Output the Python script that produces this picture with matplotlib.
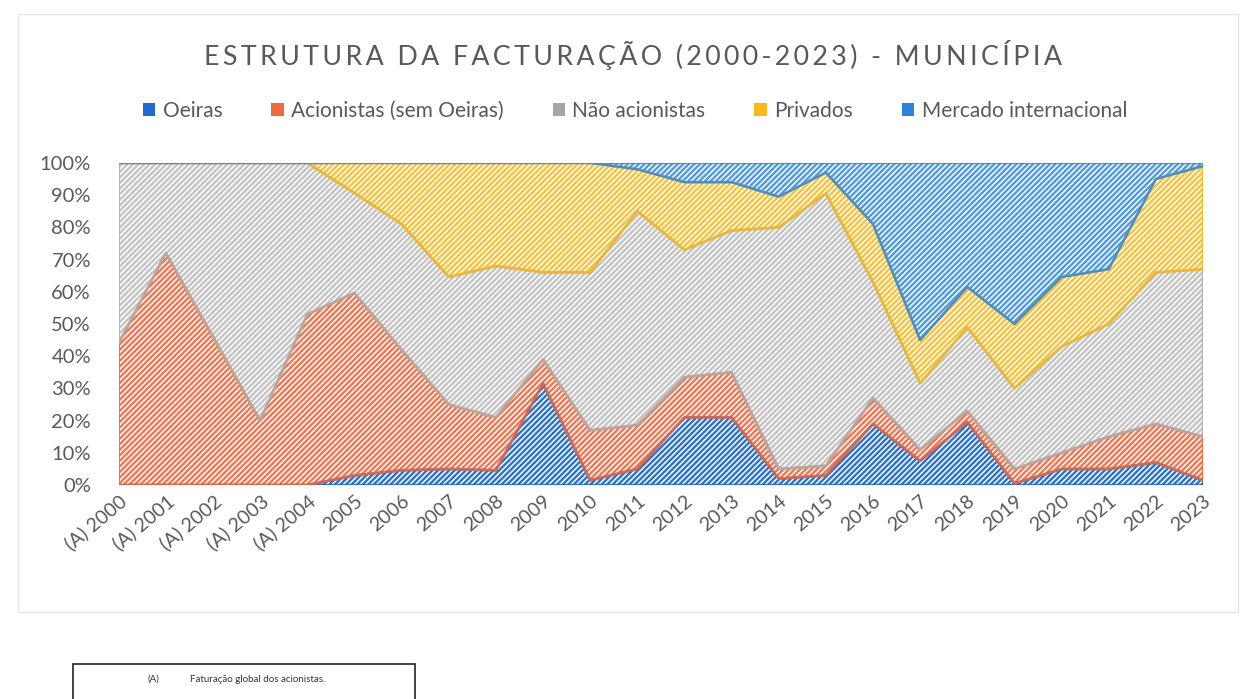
import numpy as np
import matplotlib
matplotlib.use("Agg")
import matplotlib.pyplot as plt
from matplotlib.patches import Patch, Rectangle

plt.rcParams['font.family'] = ['Lato', 'DejaVu Sans']
plt.rcParams['hatch.linewidth'] = 1.1

years = ["(A) 2000", "(A) 2001", "(A) 2002", "(A) 2003", "(A) 2004", "2005", "2006",
         "2007", "2008", "2009", "2010", "2011", "2012", "2013", "2014", "2015",
         "2016", "2017", "2018", "2019", "2020", "2021", "2022", "2023"]

oeiras = [0, 0, 0, 0, 0, 3, 4.6, 5, 4.6, 31.5, 1.5, 5, 21, 21, 2, 3, 19, 7.5, 19.5, 0.5, 5, 5, 7, 1.5]
acionistas = [44, 72, 46, 20, 53, 56.6, 37.4, 20, 16.4, 7.5, 15.5, 13.6, 12.5, 14, 3, 3, 8, 3.5, 3.5, 4.5, 5, 10, 12, 13.5]
nao_acionistas = [56, 28, 54, 80, 47, 31, 39, 39.6, 47, 27, 49, 66.4, 39.5, 44, 75, 84.5, 36, 20.6, 26, 25, 33, 35, 47, 52]
privados = [0, 0, 0, 0, 0, 9.4, 19, 35.4, 32, 34, 34, 13, 21, 15, 9.5, 6.5, 18, 13.4, 12.5, 20, 21.6, 17, 29, 32]
mercado = [0, 0, 0, 0, 0, 0, 0, 0, 0, 0, 0, 2, 6, 6, 10.5, 3, 19, 55, 38.5, 50, 35.4, 33, 5, 1]

series_names = ["Oeiras", "Acionistas (sem Oeiras)", "Não acionistas", "Privados", "Mercado internacional"]
series_colors = ["#2A72D4", "#F47650", "#C4C4C4", "#F9C23A", "#4D9BE6"]
edge_colors = ["#1F66CC", "#F0683A", "#B0B0B0", "#F6B91C", "#2E86DE"]
legend_colors = ["#1F6BD1", "#F26A3C", "#A6A6A6", "#FBB81A", "#2A84DA"]

title = "ESTRUTURA DA FACTURAÇÃO (2000-2023) - MUNICÍPIA"
footnote_key = "(A)"
footnote_text = "Faturação global dos acionistas."

text_color = "#595959"

fig = plt.figure(figsize=(12.5, 6.99), dpi=100)
ax = fig.add_axes([0.095, 0.306, 0.8674, 0.461])

data = np.array([oeiras, acionistas, nao_acionistas, privados, mercado], dtype=float)
total = data.sum(axis=0)
pct = data / total * 100
cum = np.vstack([np.zeros(len(years)), np.cumsum(pct, axis=0)])
x = np.arange(len(years))

for i in range(len(series_names)):
    ax.fill_between(x, cum[i], cum[i + 1], facecolor=series_colors[i],
                    edgecolor="white", hatch="//////", linewidth=0, zorder=2)
for i in range(len(series_names)):
    ax.fill_between(x, cum[i], cum[i + 1], facecolor="none",
                    edgecolor=edge_colors[i], linewidth=1.8, alpha=0.85, zorder=3)

ax.set_xlim(0, len(years) - 1)
ax.set_ylim(0, 100)
ax.set_yticks(np.arange(0, 101, 10))
ax.set_yticklabels([f"{v}%" for v in range(0, 101, 10)])
ax.set_xticks(x)
ax.set_xticklabels(years, rotation=40, ha="right", va="top", rotation_mode="anchor")
ax.tick_params(axis="x", length=0, labelsize=14, colors=text_color, pad=5)
ax.tick_params(axis="y", length=0, labelsize=14.5, colors=text_color, pad=20)
for s in ax.spines.values():
    s.set_visible(False)

fig.text(0.506, 0.921, "\u2009".join(title), ha="center", va="center",
         fontsize=19.3, color=text_color)

handles = [Patch(facecolor=c, edgecolor="none") for c in legend_colors]
fig.legend(handles, series_names, loc="center", bbox_to_anchor=(0.508, 0.841), ncol=5,
           frameon=False, fontsize=15, handlelength=0.6, handleheight=0.6,
           handletextpad=0.35, columnspacing=2.35, labelcolor=text_color)

# outer chart border
fig.add_artist(Rectangle((0.014, 0.125), 0.976, 0.855, transform=fig.transFigure,
                         fill=False, edgecolor="#E6E6E6", linewidth=1.0))

# footnote box
fig.add_artist(Rectangle((0.058, -0.02), 0.274, 0.07, transform=fig.transFigure,
                         fill=False, edgecolor="#222222", linewidth=1.2))
fig.text(0.118, 0.028, footnote_key, ha="left", va="center", fontsize=7, color="#333333")
fig.text(0.152, 0.028, footnote_text, ha="left", va="center", fontsize=7, color="#333333")

fig.savefig("out.png", dpi=100, facecolor="white")
